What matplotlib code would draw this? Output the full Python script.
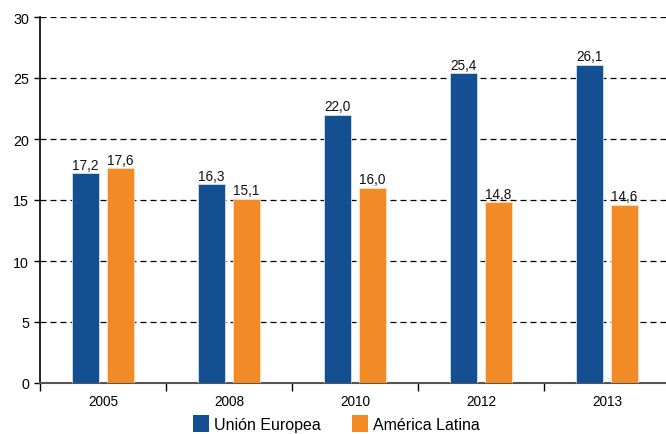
import numpy as np
import matplotlib.pyplot as plt
from matplotlib.patches import Patch

# Datos del gráfico
anios = ['2005', '2008', '2010', '2012', '2013']
union_europea = [17.2, 16.3, 22.0, 25.4, 26.1]
america_latina = [17.6, 15.1, 16.0, 14.8, 14.6]

azul = '#134f91'
naranja = '#f28a25'

plt.rcParams['font.family'] = ['Liberation Sans', 'DejaVu Sans']

fig = plt.figure(figsize=(6.66, 4.35), dpi=100)
ax = fig.add_axes([40 / 666, 51 / 435, 630 / 666, 366 / 435])

x = np.arange(len(anios))
ancho = 0.215
desp = 0.14

b1 = ax.bar(x - desp, union_europea, ancho, color=azul, edgecolor='#d6e0ec', linewidth=0.6, zorder=3)
b2 = ax.bar(x + desp, america_latina, ancho, color=naranja, edgecolor='#fbe0c4', linewidth=0.6, zorder=3)

def etiqueta(v):
    return f'{v:.1f}'.replace('.', ',')

for barras, valores in [(b1, union_europea), (b2, america_latina)]:
    for b, v in zip(barras, valores):
        ax.text(b.get_x() + b.get_width() / 2, v + 0.12, etiqueta(v),
                ha='center', va='bottom', fontsize=9.8, color='#111111')

ax.set_xlim(-0.5, 4.5)
ax.set_ylim(0, 30)
ax.set_yticks(range(0, 31, 5))
ax.yaxis.grid(True, linestyle=(0, (4.8, 3.2)), color='black', linewidth=0.9, zorder=0)
ax.set_axisbelow(True)

# marcas del eje x en los límites de categoría, etiquetas en el centro
ax.set_xticks(np.arange(-0.5, 4.0, 1.0))
ax.set_xticklabels([])
ax.set_xticks(x, minor=True)
ax.set_xticklabels(anios, minor=True)
ax.tick_params(axis='x', which='major', direction='out', length=6, width=1, color='black')
ax.tick_params(axis='x', which='minor', length=0, pad=8, labelsize=9.8)
ax.tick_params(axis='y', direction='out', length=4, width=1, labelsize=10.3, pad=4)

for lado in ['top', 'right']:
    ax.spines[lado].set_visible(False)
ax.spines['left'].set_color('black')
ax.spines['left'].set_linewidth(1.2)
ax.spines['bottom'].set_color('#555555')
ax.spines['bottom'].set_linewidth(1.5)

handles = [Patch(facecolor=azul), Patch(facecolor=naranja)]
fig.legend(handles, ['Unión Europea', 'América Latina'], loc='center',
           bbox_to_anchor=(0.505, 0.024), ncol=2, frameon=False, fontsize=11.5,
           handlelength=1.0, handleheight=1.2, handletextpad=0.3, columnspacing=2.0)

fig.savefig('out.png', dpi=100)
